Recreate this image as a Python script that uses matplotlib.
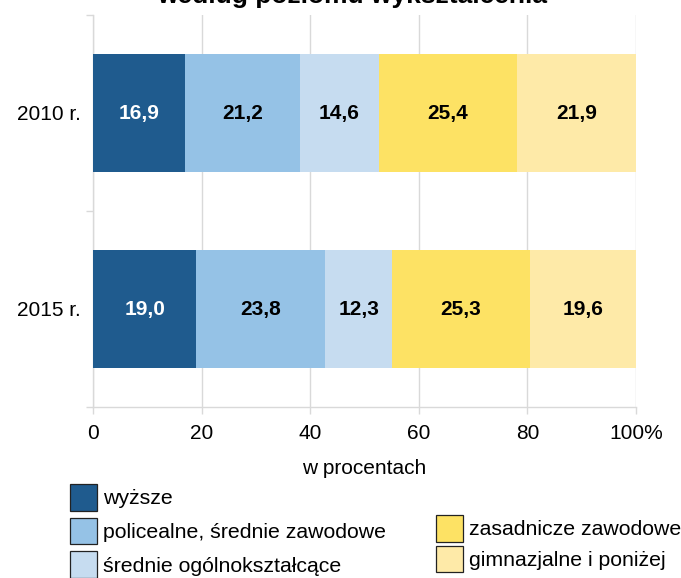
import matplotlib
matplotlib.use("Agg")
import matplotlib.pyplot as plt
from matplotlib.patches import Patch
import numpy as np

plt.rcParams['font.family'] = ['Liberation Sans', 'DejaVu Sans']

years = ["2010 r.", "2015 r."]
categories = ["wyższe", "policealne, średnie zawodowe", "średnie ogólnokształcące",
              "zasadnicze zawodowe", "gimnazjalne i poniżej"]
values = {
    "wyższe": [16.9, 19.0],
    "policealne, średnie zawodowe": [21.2, 23.8],
    "średnie ogólnokształcące": [14.6, 12.3],
    "zasadnicze zawodowe": [25.4, 25.3],
    "gimnazjalne i poniżej": [21.9, 19.6],
}
colors = ["#1f5b8e", "#95c2e6", "#c6dcf0", "#fde264", "#feeaa8"]
label_colors = ["white", "black", "black", "black", "black"]
xticks = [0, 20, 40, 60, 80, 100]
xticklabels = ["0", "20", "40", "60", "80", "100%"]

fig = plt.figure(figsize=(6.81, 5.78), dpi=100)
ax = fig.add_axes([93/681, 1-407/578, (636-93)/681, (407-15)/578])

y = np.arange(len(years))
left = np.zeros(len(years))
handles = []
for cat, col, lc in zip(categories, colors, label_colors):
    v = np.array(values[cat])
    ax.barh(y, v, left=left, height=0.6, color=col, zorder=3)
    for yi, (l, w) in enumerate(zip(left, v)):
        ax.text(l + w/2, yi, f"{w:.1f}".replace(".", ","), ha="center", va="center",
                fontsize=15, fontweight="bold", color=lc, zorder=4)
    left = left + v
    handles.append(Patch(facecolor=col, edgecolor="#222222", linewidth=0.9, label=cat))

ax.set_ylim(1.5, -0.5)
ax.set_xlim(0, 100)
ax.set_yticks(y)
ax.set_yticklabels(years, fontsize=15)
ax.set_yticks([-0.5, 0.5, 1.5], minor=True)
ax.tick_params(axis="y", which="major", length=0, pad=9)
ax.tick_params(axis="y", which="minor", length=5, color="#d9d9d9", width=1)
ax.set_xticks(xticks)
ax.set_xticklabels(xticklabels, fontsize=15)
ax.tick_params(axis="x", length=5, color="#d9d9d9", width=1, pad=7)
ax.grid(axis="x", color="#d9d9d9", linewidth=1, zorder=0)
for s in ["top", "right"]:
    ax.spines[s].set_visible(False)
for s in ["left", "bottom"]:
    ax.spines[s].set_color("#d9d9d9")
    ax.spines[s].set_linewidth(1)
ax.set_xlabel("w procentach", fontsize=15, labelpad=12)

fig.text(352/681, 1 - 3/578, "według poziomu wykształcenia", ha="center", va="baseline",
         fontsize=19, fontweight="bold")

leg_kw = dict(frameon=False, fontsize=15.3, borderpad=0, borderaxespad=0,
              handlelength=1.25, handleheight=1.55, handletextpad=0.3)
fig.legend(handles=handles[:3], loc="upper left", bbox_to_anchor=(70/681, 1-484/578),
           labelspacing=0.33, **leg_kw)
fig.legend(handles=handles[3:], loc="upper left", bbox_to_anchor=(436/681, 1-515/578),
           labelspacing=0.2, **leg_kw)

fig.savefig("out.png", dpi=100)
